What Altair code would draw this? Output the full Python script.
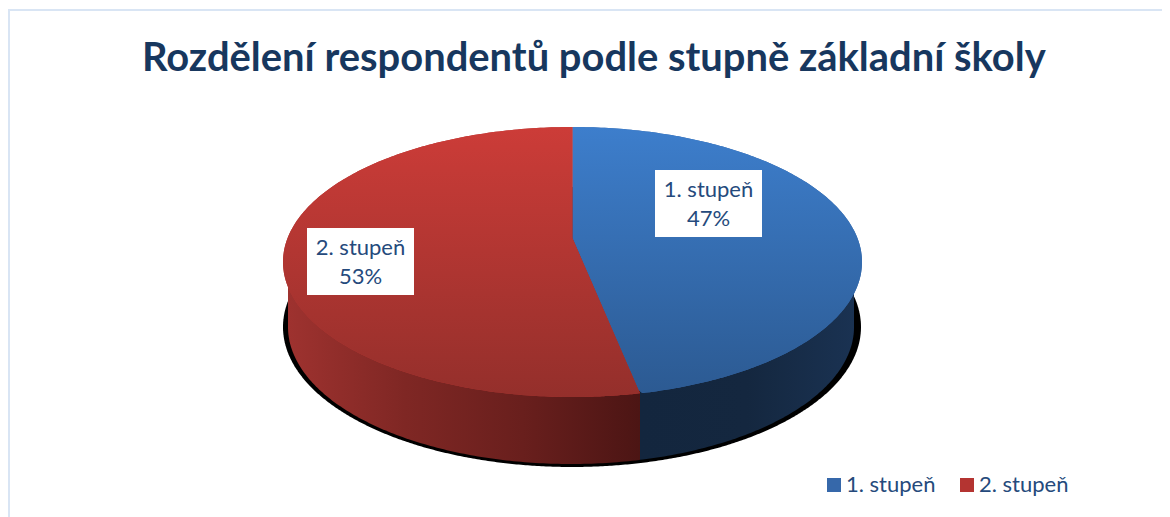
import numpy as np
import pandas as pd
import altair as alt

# --- values
TITLE = "Rozdělení respondentů podle stupně základní školy"
categories = ["1. stupeň", "2. stupeň"]
shares = [47, 53]
flat_colors = ["#3668aa", "#b43431"]
TEXT = "#254a7c"
FONT = "Lato"

# --- drawing geometry, page pixels
W, H = 1154, 509
CX, RX, CY, RY = 572.5, 289.5, 262, 135     # top face
HUB_Y, SPLIT_X = 238, 640                   # slice vertex, slice edge at the rim
WCX, WRX, WCY, WRY = 571, 283, 327, 137     # bottom rim of the wall
SCX, SRX, SCY, SRY = 572, 289, 327, 140     # black shadow


def upper(x, cx=CX, rx=RX, cy=CY, ry=RY):
    return cy - ry * np.sqrt(np.clip(1 - ((x - cx) / rx) ** 2, 0, 1))


def lower(x, cx=CX, rx=RX, cy=CY, ry=RY):
    return cy + ry * np.sqrt(np.clip(1 - ((x - cx) / rx) ** 2, 0, 1))


def rim_xs(x0, x1, cx, rx, n=240):
    t = np.linspace(0, np.pi, n)
    xs = cx - rx * np.cos(t)
    return np.unique(np.r_[x0, xs[(xs > x0) & (xs < x1)], x1])


def table(xs, top, bottom, cat):
    return pd.DataFrame({"x": xs, "y": top, "y2": bottom, "category": cat})


def edge(x):
    return HUB_Y + (x - CX) / (SPLIT_X - CX) * (lower(SPLIT_X) - HUB_Y)


# blue face: slice edge and rim below, rim above
xb = rim_xs(CX, CX + RX, CX, RX)
blue = table(xb, upper(xb), np.where(xb < SPLIT_X, edge(xb), lower(xb)), categories[0])

# red face: rim below; rim above up to the top, then the slice edge
xr_a = rim_xs(CX - RX, CX, CX, RX)
xr_b = rim_xs(CX, SPLIT_X, CX, RX, n=480)
xr = np.r_[xr_a, xr_b]
red = table(xr, np.r_[upper(xr_a), edge(xr_b)], lower(xr), categories[1])

faces = pd.concat([blue, red], ignore_index=True)

xwr = rim_xs(WCX - WRX, SPLIT_X, WCX, WRX)
wall_red = table(xwr, np.full(len(xwr), CY), lower(xwr, WCX, WRX, WCY, WRY), "wall")
xwb = rim_xs(SPLIT_X, WCX + WRX, WCX, WRX)
wall_blue = table(xwb, np.full(len(xwb), CY), lower(xwb, WCX, WRX, WCY, WRY), "wall")
xsh = rim_xs(SCX - SRX, SCX + SRX, SCX, SRX, n=400)
shadow = table(xsh, upper(xsh, SCX, SRX, SCY, SRY), lower(xsh, SCX, SRX, SCY, SRY), "shadow")

x_scale = alt.Scale(domain=[8, 8 + W], nice=False, zero=False)
y_scale = alt.Scale(domain=[8 + H, 8], nice=False, zero=False)
X = alt.X("x:Q", scale=x_scale, axis=None)
Y = alt.Y("y:Q", scale=y_scale, axis=None)
Y2 = alt.Y2("y2:Q")


def grad_v(c0, c1):
    return alt.Gradient(gradient="linear", x1=0, x2=0, y1=0, y2=1,
                        stops=[alt.GradientStop(color=c0, offset=0), alt.GradientStop(color=c1, offset=1)])


def grad_h(*cs):
    n = len(cs) - 1
    return alt.Gradient(gradient="linear", x1=0, x2=1, y1=0, y2=0,
                        stops=[alt.GradientStop(color=c, offset=k / n) for k, c in enumerate(cs)])


def area(df, fill):
    return alt.Chart(df).mark_area(orient="vertical", fill=fill).encode(x=X, y=Y, y2=Y2)


shadow_l = area(shadow, "#000000")
wall_r = area(wall_red, grad_h("#9e322f", "#7f2724", "#691f1d", "#4c1514"))
wall_b = area(wall_blue, grad_h("#13263e", "#14273f", "#1a3252"))

base = alt.Chart(faces).mark_area(orient="vertical").encode(
    x=X, y=Y, y2=Y2,
    color=alt.Color("category:N", scale=alt.Scale(domain=categories, range=flat_colors),
                    legend=alt.Legend(orient="none", legendX=815, legendY=466, direction="horizontal",
                                      columns=2, title=None, symbolType="square", symbolSize=196,
                                      symbolStrokeWidth=0, labelFont=FONT, labelFontSize=22,
                                      labelColor=TEXT, labelOffset=1, columnPadding=20, padding=0)),
)
face_b = area(blue, grad_v("#3d7ecc", "#2c5a92"))
face_r = area(red, grad_v("#cc3c38", "#942f2b"))

label_df = pd.DataFrame({
    "x": [655, 307], "x2": [762, 414], "y": [170, 228], "y2": [237, 295],
    "xc": [708.5, 360.5], "yc": [190, 248],
    "text": [f"{c}\n{s}%" for c, s in zip(categories, shares)],
})
boxes = alt.Chart(label_df).mark_rect(fill="#ffffff").encode(x=X, x2="x2:Q", y=Y, y2=Y2)
texts = alt.Chart(label_df).mark_text(font=FONT, fontSize=22, color=TEXT, lineBreak="\n", lineHeight=29,
                                      align="center", baseline="middle").encode(
    x=alt.X("xc:Q", scale=x_scale, axis=None), y=alt.Y("yc:Q", scale=y_scale, axis=None), text="text:N")

frame_v = alt.Chart(pd.DataFrame({"x": [9], "y": [9], "y2": [8 + H]})).mark_rule(
    stroke="#d9e5f4", strokeWidth=2).encode(x=X, y=Y, y2=Y2)
frame_h = alt.Chart(pd.DataFrame({"x": [8], "x2": [8 + W], "y": [10]})).mark_rule(
    stroke="#d9e5f4", strokeWidth=2).encode(x=X, x2="x2:Q", y=Y)

chart = alt.layer(
    frame_v, frame_h, shadow_l, wall_r, wall_b, base, face_b, face_r, boxes, texts
).properties(
    width=W, height=H, padding=0,
    autosize=alt.AutoSizeParams(type="none"),
    title=alt.TitleParams(TITLE, font=FONT, fontSize=39.9, fontWeight="bold", color="#17375e",
                          anchor="start", dx=135, dy=103, offset=0, baseline="alphabetic"),
).configure_view(stroke=None)

chart.save("out.html", embed_options={"renderer": "svg", "actions": False})
